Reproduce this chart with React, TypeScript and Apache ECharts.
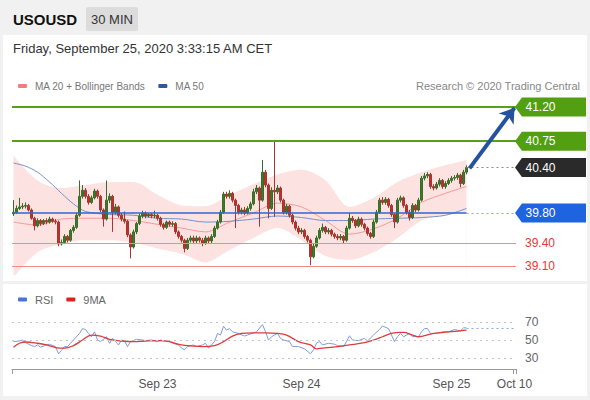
import React, { useEffect, useRef } from "react";
import * as echarts from "echarts";

const FONT = "'Liberation Sans', Arial, sans-serif";

const N_SLOTS = 168;
const TICK_LABELS: [number, string][] = [
  [48, "Sep 23"],
  [96, "Sep 24"],
  [146, "Sep 25"],
  [167, "Oct 10"],
];

// [open, close, low, high]
const CANDLES: number[][] = [
  [39.79, 39.81, 39.76, 39.97], [39.81, 39.86, 39.79, 39.9], [39.86, 39.88, 39.84, 40.0], [39.88, 39.89, 39.85, 39.93],
  [39.89, 39.9, 39.86, 39.94], [39.9, 39.84, 39.82, 39.92], [39.84, 39.73, 39.71, 39.86], [39.73, 39.63, 39.57, 39.75],
  [39.63, 39.7, 39.61, 39.73], [39.7, 39.66, 39.63, 39.72], [39.66, 39.7, 39.64, 39.72], [39.7, 39.68, 39.65, 39.73],
  [39.68, 39.72, 39.66, 39.75], [39.72, 39.69, 39.67, 39.74], [39.69, 39.68, 39.65, 39.72], [39.68, 39.39, 39.36, 39.7],
  [39.39, 39.41, 39.37, 39.45], [39.41, 39.49, 39.39, 39.52], [39.49, 39.44, 39.41, 39.51], [39.44, 39.57, 39.42, 39.59],
  [39.57, 39.61, 39.54, 39.64], [39.61, 39.77, 39.59, 39.8], [39.77, 40.02, 39.75, 40.23], [40.02, 40.1, 39.99, 40.17],
  [40.1, 40.02, 39.99, 40.13], [40.02, 39.94, 39.91, 40.05], [39.94, 40.0, 39.92, 40.03], [40.0, 40.09, 39.98, 40.12],
  [40.09, 40.02, 39.99, 40.11], [40.02, 39.84, 39.81, 40.04], [39.84, 39.72, 39.62, 39.86], [39.72, 39.97, 39.7, 40.23],
  [39.97, 40.02, 39.93, 40.06], [40.02, 39.81, 39.55, 40.04], [39.81, 39.88, 39.78, 39.92], [39.88, 39.77, 39.74, 39.9],
  [39.77, 39.72, 39.69, 39.8], [39.72, 39.69, 39.66, 39.82], [39.69, 39.51, 39.48, 39.71], [39.51, 39.35, 39.2, 39.53],
  [39.35, 39.55, 39.33, 39.58], [39.55, 39.66, 39.52, 39.68], [39.66, 39.76, 39.64, 39.79], [39.76, 39.8, 39.73, 39.83],
  [39.8, 39.76, 39.73, 39.82], [39.76, 39.78, 39.74, 39.8], [39.78, 39.76, 39.73, 39.8], [39.76, 39.77, 39.73, 39.83],
  [39.77, 39.73, 39.7, 39.79], [39.73, 39.65, 39.62, 39.75], [39.65, 39.61, 39.58, 39.67], [39.61, 39.68, 39.59, 39.7],
  [39.68, 39.65, 39.62, 39.7], [39.65, 39.66, 39.62, 39.69], [39.66, 39.55, 39.52, 39.68], [39.55, 39.49, 39.46, 39.57],
  [39.49, 39.44, 39.41, 39.51], [39.44, 39.33, 39.28, 39.46], [39.33, 39.44, 39.31, 39.47], [39.44, 39.47, 39.41, 39.5],
  [39.47, 39.43, 39.4, 39.5], [39.43, 39.47, 39.4, 39.5], [39.47, 39.44, 39.41, 39.49], [39.44, 39.4, 39.36, 39.47],
  [39.4, 39.47, 39.38, 39.5], [39.47, 39.43, 39.4, 39.49], [39.43, 39.49, 39.4, 39.52], [39.49, 39.6, 39.47, 39.63],
  [39.6, 39.68, 39.58, 39.71], [39.68, 39.81, 39.66, 39.84], [39.81, 40.05, 39.79, 40.08], [40.05, 40.02, 39.99, 40.08],
  [40.02, 40.06, 39.99, 40.1], [40.06, 39.97, 39.94, 40.08], [39.97, 39.9, 39.6, 39.99], [39.9, 39.81, 39.78, 39.92],
  [39.81, 39.84, 39.78, 39.87], [39.84, 39.8, 39.77, 39.88], [39.8, 39.86, 39.78, 39.89], [39.86, 39.92, 39.83, 39.95],
  [39.92, 40.08, 39.9, 40.12], [40.08, 40.13, 40.05, 40.17], [40.13, 39.97, 39.62, 40.15], [39.97, 40.34, 39.95, 40.5],
  [40.34, 40.17, 40.14, 40.37], [40.17, 39.86, 39.73, 40.19], [39.86, 40.1, 39.84, 40.14], [40.1, 40.08, 39.75, 40.74],
  [40.08, 40.13, 40.05, 40.17], [40.13, 39.97, 39.94, 40.15], [39.97, 39.81, 39.78, 39.99], [39.81, 39.89, 39.78, 39.92],
  [39.89, 39.77, 39.74, 39.91], [39.77, 39.68, 39.65, 39.79], [39.68, 39.6, 39.57, 39.7], [39.6, 39.55, 39.52, 39.63],
  [39.55, 39.57, 39.52, 39.6], [39.57, 39.49, 39.46, 39.59], [39.49, 39.44, 39.41, 39.51], [39.44, 39.22, 39.11, 39.46],
  [39.22, 39.36, 39.2, 39.39], [39.36, 39.47, 39.34, 39.5], [39.47, 39.57, 39.45, 39.6], [39.57, 39.61, 39.54, 39.66],
  [39.61, 39.55, 39.52, 39.63], [39.55, 39.57, 39.52, 39.6], [39.57, 39.52, 39.49, 39.59], [39.52, 39.49, 39.46, 39.54],
  [39.49, 39.47, 39.44, 39.52], [39.47, 39.49, 39.44, 39.52], [39.49, 39.44, 39.4, 39.51], [39.44, 39.6, 39.42, 39.63],
  [39.6, 39.73, 39.58, 39.8], [39.73, 39.7, 39.67, 39.76], [39.7, 39.63, 39.6, 39.72], [39.63, 39.72, 39.61, 39.75],
  [39.72, 39.65, 39.62, 39.74], [39.65, 39.6, 39.57, 39.67], [39.6, 39.53, 39.5, 39.62], [39.53, 39.49, 39.46, 39.55],
  [39.49, 39.68, 39.47, 39.71], [39.68, 39.81, 39.66, 39.84], [39.81, 39.97, 39.79, 40.0], [39.97, 39.94, 39.91, 40.01],
  [39.94, 39.98, 39.91, 40.01], [39.98, 39.9, 39.87, 40.0], [39.9, 39.78, 39.75, 39.92], [39.78, 39.68, 39.6, 39.8],
  [39.68, 39.97, 39.66, 40.0], [39.97, 40.0, 39.94, 40.03], [40.0, 39.9, 39.87, 40.02], [39.9, 39.81, 39.78, 39.92],
  [39.81, 39.74, 39.7, 39.84], [39.74, 39.9, 39.72, 39.93], [39.9, 39.84, 39.81, 39.92], [39.84, 39.97, 39.82, 40.0],
  [39.97, 40.26, 39.95, 40.29], [40.26, 40.29, 40.23, 40.33], [40.29, 40.31, 40.26, 40.34], [40.31, 40.15, 40.12, 40.33],
  [40.15, 40.13, 40.1, 40.18], [40.13, 40.18, 40.11, 40.21], [40.18, 40.23, 40.15, 40.26], [40.23, 40.15, 40.12, 40.25],
  [40.15, 40.19, 40.12, 40.22], [40.19, 40.23, 40.17, 40.26], [40.23, 40.26, 40.2, 40.29], [40.26, 40.27, 40.23, 40.3],
  [40.27, 40.3, 40.24, 40.33], [40.3, 40.19, 40.14, 40.32], [40.19, 40.34, 40.17, 40.37], [40.34, 40.4, 40.31, 40.43],
];

const BAND_IDX = [0, 8, 16, 24, 32, 40, 48, 56, 64, 72, 80, 88, 96, 104, 112, 120, 128, 136, 144, 151];
const BB_UPPER = [40.56, 40.23, 40.13, 40.17, 40.21, 40.21, 40.04, 39.9, 39.89, 40.04, 40.18, 40.31, 40.37, 40.23, 39.88, 40.0, 40.21, 40.34, 40.43, 40.5];
const BB_LOWER = [38.95, 39.28, 39.39, 39.44, 39.44, 39.41, 39.33, 39.26, 39.15, 39.31, 39.47, 39.6, 39.44, 39.23, 39.18, 39.28, 39.47, 39.7, 39.78, 39.81];
const MA20 = [39.68, 39.64, 39.72, 39.73, 39.73, 39.7, 39.65, 39.6, 39.55, 39.68, 39.8, 39.93, 39.88, 39.7, 39.52, 39.59, 39.73, 39.94, 40.06, 40.15];

const MA50_IDX = [0, 4, 8, 12, 16, 20, 24, 32, 40, 48, 56, 64, 72, 80, 88, 96, 104, 112, 120, 128, 136, 144, 151];
const MA50 = [40.46, 40.42, 40.34, 40.21, 40.06, 39.92, 39.82, 39.78, 39.77, 39.73, 39.72, 39.68, 39.69, 39.72, 39.76, 39.74, 39.7, 39.7, 39.72, 39.73, 39.74, 39.77, 39.86];

const RESISTANCES = [41.2, 40.75];
const LAST_PRICE = 40.4;
const PIVOT = 39.8;
const SUPPORTS = [39.4, 39.1];
const TARGET = 41.19;

const RSI_IDX = [0, 2, 3, 4, 6, 7, 8, 9, 11, 12, 14, 15, 16, 17, 18, 19, 20, 22, 23, 24, 25, 26, 27, 28, 29, 31, 32, 33, 34, 35, 36, 37, 38, 39, 41, 43, 44, 46, 48, 49, 50, 52, 53, 55, 56, 57, 58, 60, 61, 63, 64, 65, 66, 67, 68, 69, 70, 71, 72, 73, 75, 77, 78, 80, 81, 83, 84, 85, 86, 87, 88, 89, 90, 92, 93, 95, 97, 99, 100, 101, 102, 103, 105, 107, 108, 110, 111, 112, 113, 115, 117, 118, 120, 122, 123, 125, 126, 127, 128, 129, 130, 132, 133, 134, 135, 136, 137, 138, 139, 141, 143, 145, 147, 148, 149, 150, 151];
const RSI = [48.2, 48.9, 50.0, 47.1, 43.8, 42.7, 44.5, 42.0, 44.5, 45.3, 42.7, 34.7, 38.4, 42.7, 42.7, 46.4, 50.0, 57.3, 62.7, 61.6, 57.3, 53.6, 59.1, 50.0, 48.2, 53.6, 46.4, 51.8, 48.2, 44.5, 50.0, 48.9, 42.7, 48.2, 50.7, 50.0, 49.3, 50.0, 48.2, 50.0, 48.9, 48.2, 46.4, 44.5, 40.9, 39.1, 42.7, 44.5, 42.7, 44.5, 46.4, 40.9, 44.5, 48.2, 57.3, 55.5, 65.3, 60.9, 62.7, 59.1, 57.3, 54.4, 55.5, 58.0, 59.1, 67.1, 59.1, 50.0, 53.6, 55.5, 57.3, 51.8, 50.0, 48.2, 42.7, 42.7, 40.2, 34.7, 39.1, 46.4, 48.2, 44.5, 46.4, 45.3, 43.8, 42.7, 48.2, 54.7, 50.0, 49.3, 51.8, 48.9, 55.5, 61.6, 65.6, 62.7, 55.5, 48.2, 53.6, 57.3, 53.6, 57.3, 53.6, 54.4, 53.6, 59.1, 62.7, 62.7, 57.3, 57.3, 59.1, 59.1, 61.6, 60.9, 60.2, 63.5, 63.5];
const RSI9_IDX = [0, 2, 4, 8, 11, 14, 17, 20, 23, 26, 29, 32, 36, 40, 44, 49, 52, 56, 59, 63, 67, 70, 73, 76, 80, 84, 88, 91, 95, 99, 101, 103, 108, 112, 117, 120, 123, 126, 129, 130, 133, 135, 139, 142, 145, 149, 151];
const RSI9 = [42.0, 46.4, 47.8, 46.4, 44.5, 41.6, 40.9, 43.8, 50.0, 55.5, 54.4, 50.7, 48.9, 48.2, 48.9, 49.3, 48.2, 44.5, 43.5, 42.7, 43.8, 48.2, 54.4, 57.3, 58.0, 58.0, 57.3, 55.5, 48.2, 44.5, 40.2, 40.9, 42.7, 44.5, 47.1, 50.0, 53.6, 57.3, 58.4, 58.4, 55.5, 53.6, 56.5, 58.0, 59.1, 60.2, 60.9];
const RSI_LEVELS = [30, 50, 70];

const CATEGORIES = Array.from({ length: N_SLOTS }, (_, i) => String(i));
const TICK_MAP = new Map<number, string>(TICK_LABELS);
const LAST_IDX = CANDLES.length - 1;
const END_IDX = N_SLOTS - 1;

const BOX_PATH = "path://M0,10L7,0L72,0L72,20L7,20Z";

export default function App() {
  const ref = useRef<HTMLDivElement>(null);
  useEffect(() => {
    if (!ref.current) return;
    const chart = echarts.init(ref.current, undefined, { renderer: "svg" });
    const pairs = (idx: number[], vals: number[]) => idx.map((i, k) => [i, vals[k]]);
    const box = (v: number, color: string) => ({
      name: v.toFixed(2),
      coord: [END_IDX, v],
      itemStyle: { color },
    });
    chart.setOption({
      animation: false,
      backgroundColor: "#f1f1f1",
      textStyle: { fontFamily: FONT },
      graphic: [
        { type: "rect", z: 0, silent: true, shape: { x: 3, y: 35, width: 584, height: 246 }, style: { fill: "#ffffff" } },
        { type: "rect", z: 0, silent: true, shape: { x: 3, y: 284, width: 584, height: 112 }, style: { fill: "#ffffff" } },
        { type: "rect", z: 1, silent: true, shape: { x: 86, y: 7, width: 52, height: 24, r: 2 }, style: { fill: "#dcdcdc" } },
        { type: "text", z: 2, x: 13, y: 19, style: { text: "USOUSD", fill: "#111", font: `bold 15px ${FONT}`, verticalAlign: "middle" } },
        { type: "text", z: 2, x: 112, y: 19, style: { text: "30 MIN", fill: "#333", font: `13px ${FONT}`, align: "center", verticalAlign: "middle" } },
        { type: "text", z: 2, x: 13, y: 48, style: { text: "Friday, September 25, 2020 3:33:15 AM CET", fill: "#333", font: `13px ${FONT}`, verticalAlign: "middle" } },
        { type: "text", z: 2, x: 580, y: 86, style: { text: "Research © 2020 Trading Central", fill: "#888", font: `11px ${FONT}`, align: "right", verticalAlign: "middle" } },
      ],
      legend: [
        {
          left: 13, top: 76, itemWidth: 9, itemHeight: 4, itemGap: 13, icon: "roundRect", selectedMode: false,
          textStyle: { color: "#777", fontSize: 10, fontFamily: FONT, padding: [0, 0, 0, 3] },
          data: [
            { name: "MA 20 + Bollinger Bands", itemStyle: { color: "#f08080" } },
            { name: "MA 50", itemStyle: { color: "#2c5aa0" } },
          ],
        },
        {
          left: 13, top: 289, itemWidth: 9, itemHeight: 4, itemGap: 13, icon: "roundRect", selectedMode: false,
          textStyle: { color: "#666", fontSize: 11, fontFamily: FONT, padding: [0, 0, 0, 3] },
          data: [
            { name: "RSI", itemStyle: { color: "#4a72d8" } },
            { name: "9MA", itemStyle: { color: "#e02020" } },
          ],
        },
      ],
      grid: [
        { left: 12, right: 74, top: 95, height: 180 },
        { left: 12, right: 74, top: 313, height: 54 },
      ],
      xAxis: [
        { type: "category", gridIndex: 0, data: CATEGORIES, boundaryGap: true, show: false },
        {
          type: "category", gridIndex: 1, data: CATEGORIES, boundaryGap: true, offset: 2,
          axisLine: { lineStyle: { color: "#999", width: 1 } },
          axisTick: { show: true, length: 5, lineStyle: { color: "#999" }, interval: (i: number) => i === 0 || i === END_IDX },
          axisLabel: {
            interval: (i: number) => TICK_MAP.has(i),
            formatter: (_v: string, i: number) => TICK_MAP.get(i) ?? "",
            color: "#555", fontSize: 12, margin: 9, fontFamily: FONT,
          },
          splitLine: { show: false },
        },
      ],
      yAxis: [
        { type: "value", gridIndex: 0, min: 38.98, max: 41.36, show: false, splitLine: { show: false } },
        {
          type: "value", gridIndex: 1, min: 20, max: 80, interval: 10, position: "right",
          axisLine: { show: false }, axisTick: { show: false }, splitLine: { show: false },
          axisLabel: { formatter: (v: number) => (RSI_LEVELS.includes(v) ? String(v) : ""), color: "#666", fontSize: 12, margin: 9, fontFamily: FONT },
        },
      ],
      series: [
        {
          type: "line", name: "bbUpper", xAxisIndex: 0, yAxisIndex: 0, data: pairs(BAND_IDX, BB_UPPER),
          smooth: 0.3, symbol: "none", silent: true, z: 1,
          lineStyle: { width: 0, opacity: 0 }, areaStyle: { color: "#fde2e2", opacity: 1, origin: "start" },
        },
        {
          type: "line", name: "bbLower", xAxisIndex: 0, yAxisIndex: 0, data: pairs(BAND_IDX, BB_LOWER),
          smooth: 0.3, symbol: "none", silent: true, z: 1,
          lineStyle: { width: 0, opacity: 0 }, areaStyle: { color: "#ffffff", opacity: 1, origin: "start" },
        },
        {
          type: "line", name: "MA 20 + Bollinger Bands", xAxisIndex: 0, yAxisIndex: 0, data: pairs(BAND_IDX, MA20),
          smooth: 0.3, symbol: "none", z: 2, color: "#f08080", lineStyle: { width: 1, color: "#f29a9a" },
        },
        {
          type: "line", name: "MA 50", xAxisIndex: 0, yAxisIndex: 0, data: pairs(MA50_IDX, MA50),
          smooth: 0.3, symbol: "none", z: 2, color: "#2c5aa0", lineStyle: { width: 1, color: "#7391cc" },
        },
        {
          type: "candlestick", name: "USOUSD", xAxisIndex: 0, yAxisIndex: 0, data: CANDLES, barWidth: 2, z: 3,
          itemStyle: { color: "#3b7d23", color0: "#c0302b", borderColor: "#3a6b2a", borderColor0: "#a8352f", borderWidth: 1 },
          markLine: {
            silent: true, symbol: ["none", "none"], animation: false,
            data: [
              ...RESISTANCES.map((v) => ({ yAxis: v, label: { show: false }, lineStyle: { color: "#56a01a", width: 2, type: "solid" } })),
              ...SUPPORTS.map((v) => ({
                yAxis: v,
                label: { show: true, position: "end", distance: 9, formatter: () => v.toFixed(2), color: "#e53935", fontSize: 12, fontFamily: FONT },
                lineStyle: { color: "#f08c8c", width: 1, type: "solid" },
              })),
              [
                { coord: [0, PIVOT], lineStyle: { color: "#2b67d6", width: 1.5, type: "solid" }, label: { show: false } },
                { coord: [LAST_IDX, PIVOT] },
              ],
              [
                { coord: [LAST_IDX, PIVOT], lineStyle: { color: "#8aa6e0", width: 1, type: [2, 3] }, label: { show: false } },
                { coord: [END_IDX, PIVOT] },
              ],
              [
                { coord: [LAST_IDX, LAST_PRICE], lineStyle: { color: "#888", width: 1, type: [2, 3] }, label: { show: false } },
                { coord: [END_IDX, LAST_PRICE] },
              ],
              [
                { coord: [LAST_IDX + 1, LAST_PRICE - 0.01], symbol: "none", lineStyle: { color: "#23539f", width: 4, type: "solid" }, label: { show: false } },
                { coord: [END_IDX, TARGET], symbol: "arrow", symbolSize: [14, 14] },
              ],
            ],
          },
          markPoint: {
            silent: true, animation: false,
            symbol: BOX_PATH, symbolSize: [71, 19], symbolOffset: [36, 0], symbolKeepAspect: false,
            label: { show: true, position: "inside", formatter: "{b}", color: "#fff", fontSize: 12, fontFamily: FONT, offset: [-10, 0] },
            data: [
              box(RESISTANCES[0], "#52a012"),
              box(RESISTANCES[1], "#52a012"),
              box(LAST_PRICE, "#2a2a2a"),
              box(PIVOT, "#1e63e0"),
            ],
          },
        },
        {
          type: "line", name: "RSI", xAxisIndex: 1, yAxisIndex: 1, data: pairs(RSI_IDX, RSI),
          symbol: "none", z: 3, color: "#4a72d8", lineStyle: { width: 1, color: "#7d9be2" },
          markLine: {
            silent: true, symbol: ["none", "none"], animation: false,
            data: [
              ...RSI_LEVELS.map((v) => ({ yAxis: v, label: { show: false }, lineStyle: { color: "#c4c4c4", width: 1, type: [2, 4] } })),
              [
                { coord: [LAST_IDX, RSI[RSI.length - 1]], lineStyle: { color: "#8fa8e4", width: 1, type: [2, 3] }, label: { show: false } },
                { coord: [END_IDX, RSI[RSI.length - 1]] },
              ],
            ],
          },
        },
        {
          type: "line", name: "9MA", xAxisIndex: 1, yAxisIndex: 1, data: pairs(RSI9_IDX, RSI9),
          smooth: 0.4, symbol: "none", z: 4, color: "#e02020", lineStyle: { width: 1.3, color: "#e0393e" },
        },
      ],
    });
    return () => chart.dispose();
  }, []);
  return <div ref={ref} style={{ position: "fixed", left: 0, top: 0, width: 590, height: 400 }} />;
}
